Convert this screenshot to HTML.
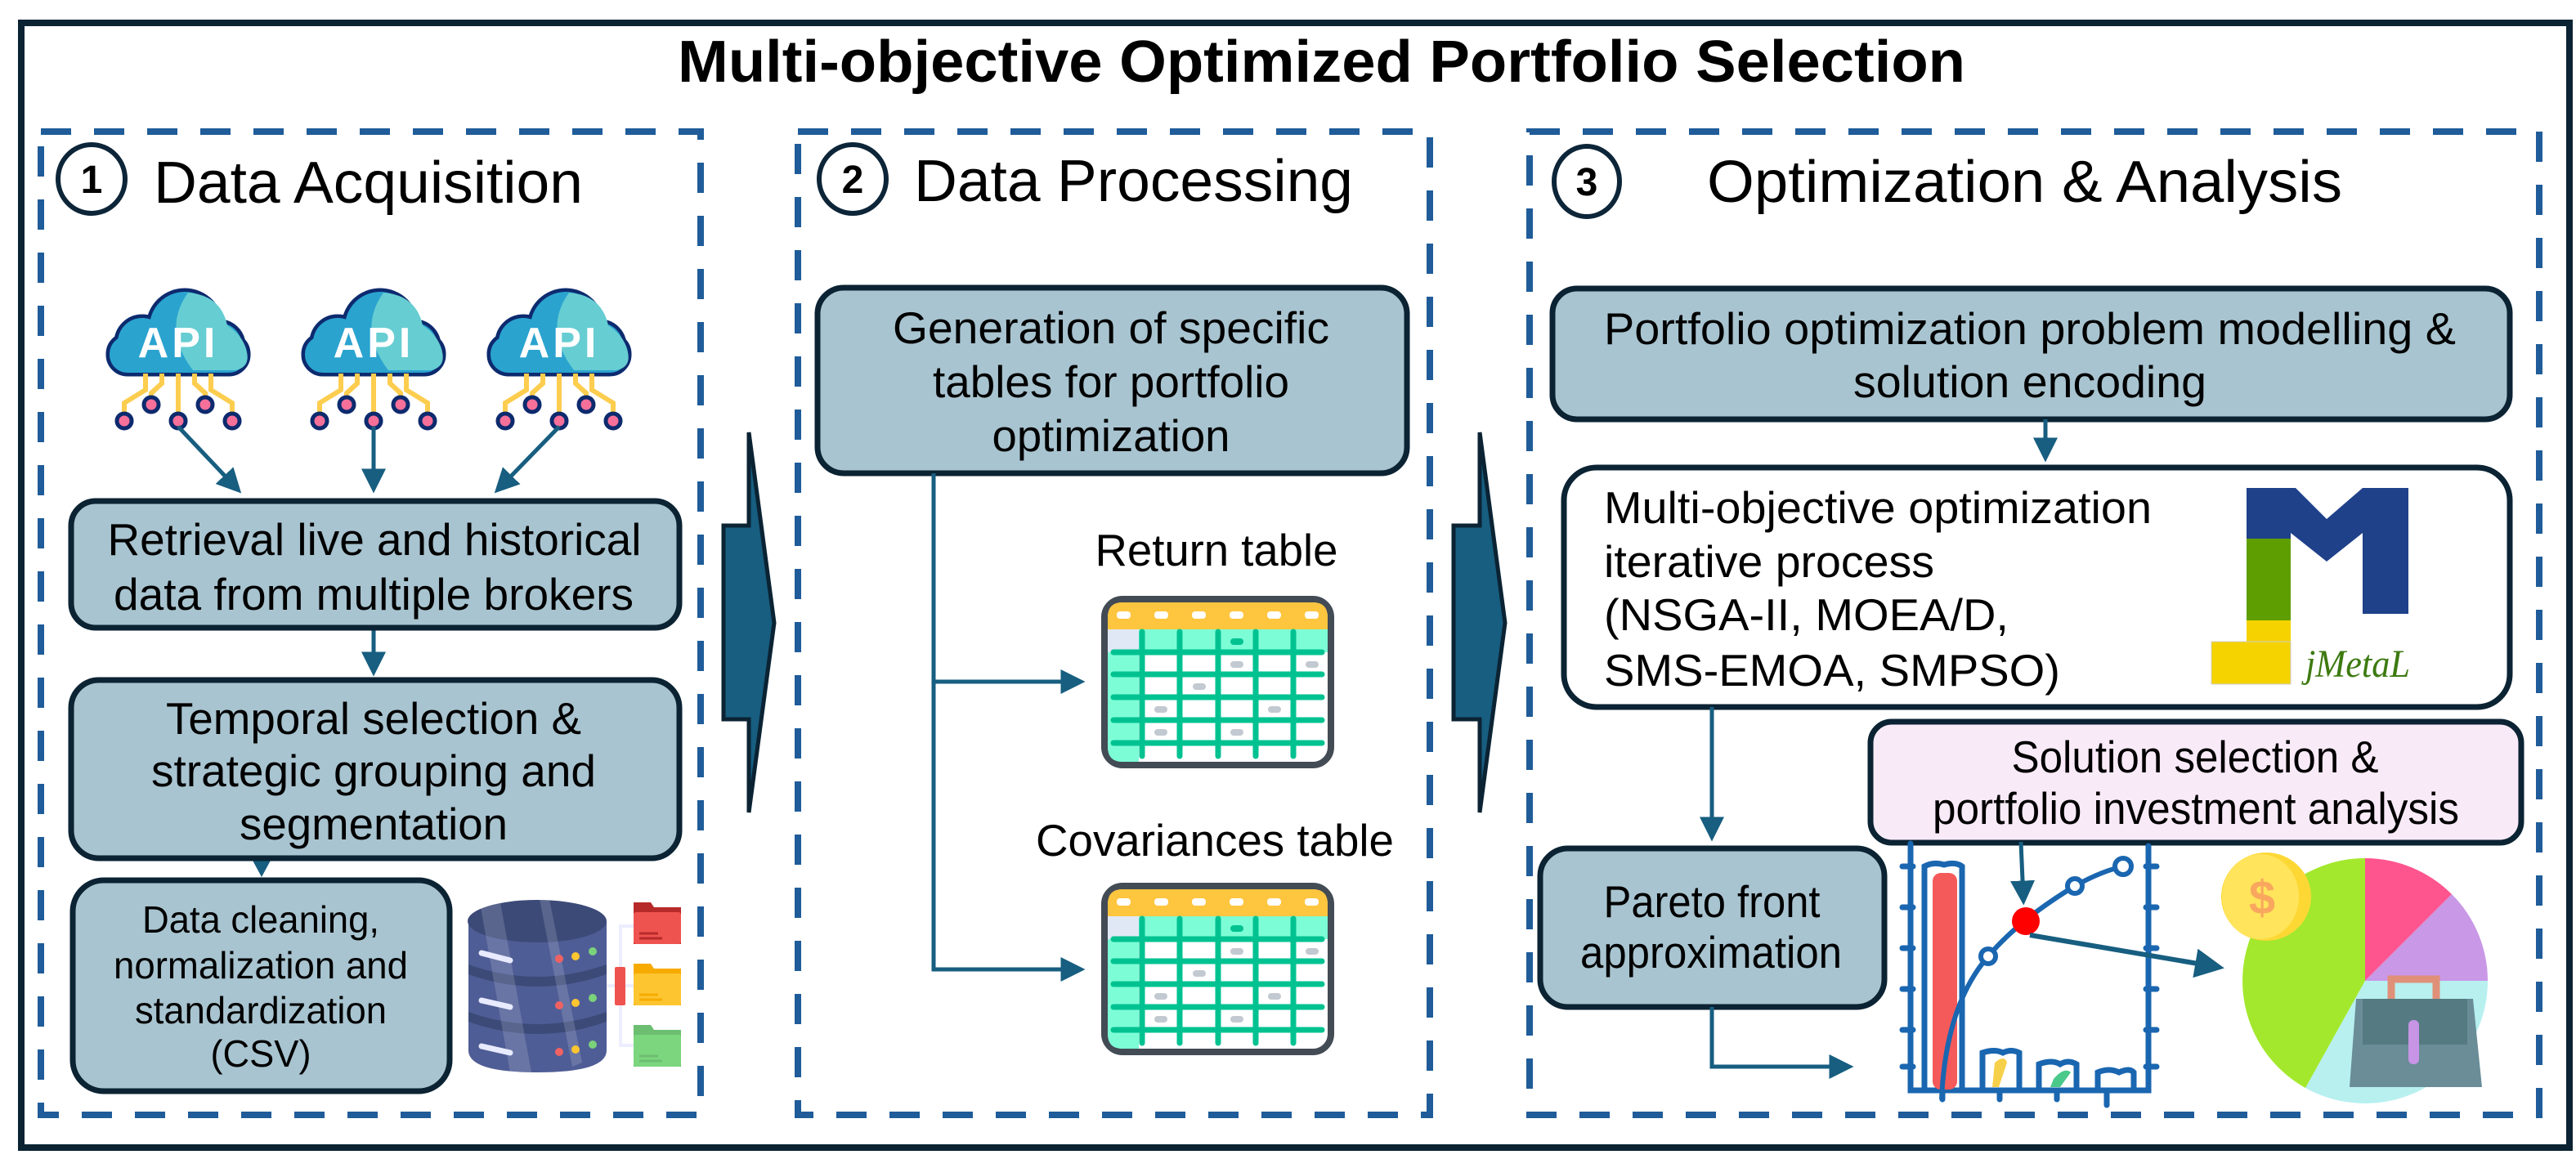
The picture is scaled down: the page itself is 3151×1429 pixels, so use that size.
<!DOCTYPE html>
<html><head><meta charset="utf-8"><style>html,body{margin:0;padding:0;background:#fff}svg{display:block}</style></head>
<body>
<svg width="3151" height="1429" viewBox="0 0 3151 1429" xmlns="http://www.w3.org/2000/svg" font-family="Liberation Sans, Arial, sans-serif">
<defs>
<marker id="ah" markerWidth="6" markerHeight="6" refX="4.5" refY="3" orient="auto" markerUnits="strokeWidth"><path d="M0,0 L6,3 L0,6 z" fill="#175e80"/></marker>
<g id="cloud">
  <g stroke="#0d2a6e" stroke-width="9" fill="#2aa3cf">
    <circle cx="8" cy="47" r="43"/><circle cx="-44" cy="66" r="30"/><circle cx="50" cy="70" r="28"/><rect x="-84" y="58" width="168" height="45" rx="22"/>
  </g>
  <g fill="#2aa3cf"><circle cx="8" cy="47" r="43"/><circle cx="-44" cy="66" r="30"/><circle cx="50" cy="70" r="28"/><rect x="-84" y="58" width="168" height="45" rx="22"/></g>
  <path d="M12,5 Q-20,50 18,100 L70,100 Q88,96 84,78 Q80,58 60,45 Q52,8 12,5 z" fill="#66cdd2"/>
  <text x="0" y="84" font-size="52" font-weight="bold" fill="#fff" text-anchor="middle" letter-spacing="4">API</text>
  <g stroke="#fdcd4f" stroke-width="6" fill="none">
    <path d="M-66,160 V140 L-40,124 V104"/><path d="M-33,140 V128 L-20,116 V104"/><path d="M0,160 V104"/><path d="M33,140 V128 L20,116 V104"/><path d="M66,160 V140 L40,124 V104"/>
  </g>
  <g fill="#f7709a" stroke="#0d2a6e" stroke-width="5">
    <circle cx="-66" cy="162" r="9"/><circle cx="-33" cy="142" r="9"/><circle cx="0" cy="162" r="9"/><circle cx="33" cy="142" r="9"/><circle cx="66" cy="162" r="9"/>
  </g>
</g>
<g id="tbl">
  <rect x="4" y="4" width="277" height="203" rx="22" fill="#fff" stroke="#434b55" stroke-width="8"/>
  <path d="M8,38 V26 Q8,8 26,8 H259 Q277,8 277,26 V41 H8z" fill="#fec53f"/>
  <rect x="8" y="41" width="269" height="28" fill="#7dfdd6"/>
  <rect x="8" y="41" width="38" height="28" fill="#e0e8f6"/>
  <path d="M8,69 H46 V203 H26 Q8,203 8,185z" fill="#7dfdd6"/>
  <g fill="#fff"><rect x="19" y="19" width="17" height="9" rx="4"/><rect x="65" y="19" width="17" height="9" rx="4"/><rect x="111" y="19" width="17" height="9" rx="4"/><rect x="157" y="19" width="17" height="9" rx="4"/><rect x="203" y="19" width="17" height="9" rx="4"/><rect x="249" y="19" width="17" height="9" rx="4"/></g>
  <g stroke="#00c291" stroke-width="7" stroke-linecap="round">
    <path d="M15,69 H270 M15,96 H270 M15,124 H270 M15,152 H270 M15,180 H270"/>
    <path d="M50,44 V196 M96,44 V196 M143,44 V196 M189,44 V196 M235,44 V196"/>
  </g>
  <rect x="158" y="52" width="16" height="8" rx="4" fill="#00c291"/>
  <g fill="#c3c9d1"><rect x="158" y="80" width="16" height="8" rx="4"/><rect x="250" y="80" width="16" height="8" rx="4"/><rect x="112" y="107" width="16" height="8" rx="4"/><rect x="65" y="135" width="16" height="8" rx="4"/><rect x="204" y="135" width="16" height="8" rx="4"/><rect x="65" y="163" width="16" height="8" rx="4"/><rect x="158" y="163" width="16" height="8" rx="4"/></g>
</g>
</defs>

<rect x="26" y="28" width="3117" height="1376" fill="none" stroke="#0b2333" stroke-width="8"/>
<text x="829" y="100" font-size="72" font-weight="bold" textLength="1575" lengthAdjust="spacingAndGlyphs">Multi-objective Optimized Portfolio Selection</text>

<g fill="none" stroke="#1f5c99" stroke-width="8" stroke-dasharray="37 28">
  <rect x="50" y="161" width="807" height="1203"/>
  <rect x="976" y="161" width="773" height="1203"/>
  <rect x="1871" y="161" width="1235" height="1203"/>
</g>

<g fill="#175e80" stroke="#0b2333" stroke-width="5">
  <polygon points="885,643 916,643 916,529 947,762 916,994 916,880 885,880"/>
  <polygon points="1778,643 1810,643 1810,529 1841,762 1810,994 1810,880 1778,880"/>
</g>

<g fill="none" stroke="#0d2538" stroke-width="6">
  <ellipse cx="112" cy="219" rx="41" ry="42"/><ellipse cx="1043" cy="219" rx="41" ry="42"/><ellipse cx="1941" cy="222" rx="40" ry="43"/>
</g>
<g font-weight="bold" font-size="48" text-anchor="middle"><text x="112" y="236">1</text><text x="1043" y="236">2</text><text x="1941" y="239">3</text></g>
<text x="188" y="248" font-size="72" textLength="525" lengthAdjust="spacingAndGlyphs">Data Acquisition</text>
<text x="1118" y="246" font-size="72" textLength="537" lengthAdjust="spacingAndGlyphs">Data Processing</text>
<text x="2088" y="247" font-size="72" textLength="777" lengthAdjust="spacingAndGlyphs">Optimization &amp; Analysis</text>

<use href="#cloud" x="218" y="353"/><use href="#cloud" x="457" y="353"/><use href="#cloud" x="684" y="353"/>
<g stroke="#175e80" stroke-width="5" fill="none" marker-end="url(#ah)">
  <path d="M218,522 L290,598"/><path d="M457,522 V596"/><path d="M684,522 L610,598"/>
  <path d="M457,768 V820"/>
</g>
<polygon points="307,1049 333,1049 320,1073" fill="#175e80"/>
<g fill="#a8c4d0" stroke="#0b2333" stroke-width="7">
  <rect x="87" y="613" width="744" height="155" rx="30"/>
  <rect x="87" y="832" width="744" height="218" rx="34"/>
  <rect x="89" y="1077" width="461" height="258" rx="38"/>
</g>
<g font-size="55" text-anchor="middle">
  <text x="458" y="679" textLength="653" lengthAdjust="spacingAndGlyphs">Retrieval live and historical</text>
  <text x="457" y="746" textLength="636" lengthAdjust="spacingAndGlyphs">data from multiple brokers</text>
  <text x="457" y="898" textLength="508" lengthAdjust="spacingAndGlyphs">Temporal selection &amp;</text>
  <text x="457" y="962" textLength="544" lengthAdjust="spacingAndGlyphs">strategic grouping and</text>
  <text x="457" y="1027" textLength="328" lengthAdjust="spacingAndGlyphs">segmentation</text>
</g>
<g font-size="46" text-anchor="middle">
  <text x="319" y="1141" textLength="290" lengthAdjust="spacingAndGlyphs">Data cleaning,</text>
  <text x="319" y="1197" textLength="360" lengthAdjust="spacingAndGlyphs">normalization and</text>
  <text x="319" y="1252" textLength="308" lengthAdjust="spacingAndGlyphs">standardization</text>
  <text x="319" y="1305" textLength="123" lengthAdjust="spacingAndGlyphs">(CSV)</text>
</g>
<g>
  <path d="M573,1127 V1285 Q573,1312 657,1312 Q742,1312 742,1285 V1127z" fill="#4f5d96"/>
  <ellipse cx="657" cy="1127" rx="85" ry="26" fill="#3c4a78"/>
  <path d="M573,1180 Q657,1210 742,1180 V1192 Q657,1222 573,1192z M573,1238 Q657,1268 742,1238 V1250 Q657,1280 573,1250z" fill="#3c4a78"/>
  <path d="M588,1110 L612,1104 L650,1312 L624,1312z" fill="#fff" opacity="0.15"/>
  <path d="M660,1100 L672,1100 L712,1300 L700,1305z" fill="#fff" opacity="0.15"/>
  <g stroke="#e8eaff" stroke-width="7" stroke-linecap="round"><path d="M589,1166 L624,1175"/><path d="M589,1224 L624,1232"/><path d="M589,1280 L624,1288"/></g>
  <g><circle cx="684" cy="1173" r="5" fill="#f06262"/><circle cx="704" cy="1170" r="5" fill="#fdc530"/><circle cx="725" cy="1164" r="5" fill="#7ad27b"/>
  <circle cx="684" cy="1230" r="5" fill="#f06262"/><circle cx="704" cy="1227" r="5" fill="#fdc530"/><circle cx="725" cy="1221" r="5" fill="#7ad27b"/>
  <circle cx="684" cy="1287" r="5" fill="#f06262"/><circle cx="704" cy="1284" r="5" fill="#fdc530"/><circle cx="725" cy="1278" r="5" fill="#7ad27b"/></g>
  <path d="M775,1133 H759 V1279 H775 M742,1206 H775" stroke="#eceeff" stroke-width="4" fill="none"/>
  <rect x="752" y="1183" width="13" height="47" rx="2" fill="#ef5350"/>
  <path d="M775,1104 H796 L800,1110 H833 V1155 H775z" fill="#b72a2a"/><rect x="775" y="1116" width="58" height="39" rx="3" fill="#ef5350"/>
  <path d="M775,1179 H796 L800,1185 H833 V1230 H775z" fill="#f7ab00"/><rect x="775" y="1191" width="58" height="39" rx="3" fill="#fdc530"/>
  <path d="M775,1254 H796 L800,1260 H833 V1305 H775z" fill="#6cbf70"/><rect x="775" y="1266" width="58" height="39" rx="3" fill="#7bd67e"/>
  <g stroke-width="3"><path d="M782,1142 H805 M782,1148 H810" stroke="#b72a2a"/><path d="M782,1217 H805 M782,1223 H810" stroke="#f7ab00"/><path d="M782,1292 H805 M782,1298 H810" stroke="#6cbf70"/></g>
</g>

<rect x="1000" y="352" width="721" height="227" rx="32" fill="#a8c4d0" stroke="#0b2333" stroke-width="7"/>
<g font-size="55" text-anchor="middle">
  <text x="1359" y="420" textLength="534" lengthAdjust="spacingAndGlyphs">Generation of specific</text>
  <text x="1359" y="486" textLength="436" lengthAdjust="spacingAndGlyphs">tables for portfolio</text>
  <text x="1359" y="552" textLength="291" lengthAdjust="spacingAndGlyphs">optimization</text>
  <text x="1488" y="692" textLength="297" lengthAdjust="spacingAndGlyphs">Return table</text>
  <text x="1486" y="1047" textLength="438" lengthAdjust="spacingAndGlyphs">Covariances table</text>
</g>
<g stroke="#175e80" stroke-width="5" fill="none">
  <path d="M1142,579 V1186 H1320" marker-end="url(#ah)"/>
  <path d="M1144,834 H1320" marker-end="url(#ah)"/>
</g>
<use href="#tbl" x="1347" y="729"/>
<use href="#tbl" x="1347" y="1080"/>

<rect x="1899" y="353" width="1171" height="160" rx="30" fill="#a8c4d0" stroke="#0b2333" stroke-width="7"/>
<g font-size="55" text-anchor="middle">
  <text x="2483" y="421" textLength="1042" lengthAdjust="spacingAndGlyphs">Portfolio optimization problem modelling &amp;</text>
  <text x="2483" y="486" textLength="432" lengthAdjust="spacingAndGlyphs">solution encoding</text>
</g>
<path d="M2502,513 V558" stroke="#175e80" stroke-width="5" marker-end="url(#ah)"/>
<rect x="1913" y="572" width="1157" height="293" rx="40" fill="#fff" stroke="#0b2333" stroke-width="7"/>
<g font-size="55">
  <text x="1962" y="640" textLength="670" lengthAdjust="spacingAndGlyphs">Multi-objective optimization</text>
  <text x="1962" y="706" textLength="404" lengthAdjust="spacingAndGlyphs">iterative process</text>
  <text x="1962" y="771" textLength="495" lengthAdjust="spacingAndGlyphs">(NSGA-II, MOEA/D,</text>
  <text x="1962" y="839" textLength="558" lengthAdjust="spacingAndGlyphs">SMS-EMOA, SMPSO)</text>
</g>
<g>
  <rect x="2748" y="658" width="54" height="101" fill="#5f9e00"/>
  <rect x="2748" y="759" width="54" height="30" fill="#f5d300"/>
  <rect x="2705" y="785" width="97" height="52" fill="#f5d300" stroke="#ccc" stroke-width="1"/>
  <polygon points="2748,597 2808,597 2846,635 2890,597 2946,597 2946,751 2890,751 2890,652 2846,687 2802,652 2802,659 2748,659" fill="#1f418a"/>
  <text x="2820" y="828" font-family="Liberation Serif, serif" font-style="italic" font-size="48" fill="#3d7a10" textLength="128" lengthAdjust="spacingAndGlyphs">jMetaL</text>
</g>
<path d="M2094,865 V1022" stroke="#175e80" stroke-width="5" marker-end="url(#ah)"/>
<rect x="1884" y="1038" width="421" height="194" rx="34" fill="#a8c4d0" stroke="#0b2333" stroke-width="7"/>
<g font-size="55" text-anchor="middle">
  <text x="2094" y="1122" textLength="265" lengthAdjust="spacingAndGlyphs">Pareto front</text>
  <text x="2093" y="1184" textLength="320" lengthAdjust="spacingAndGlyphs">approximation</text>
</g>
<path d="M2094,1232 V1305 H2260" stroke="#175e80" stroke-width="5" fill="none" marker-end="url(#ah)"/>
<rect x="2288" y="883" width="796" height="148" rx="26" fill="#f9eaf8" stroke="#0b2333" stroke-width="7"/>
<g font-size="55" text-anchor="middle">
  <text x="2685" y="945" textLength="449" lengthAdjust="spacingAndGlyphs">Solution selection &amp;</text>
  <text x="2686" y="1008" textLength="644" lengthAdjust="spacingAndGlyphs">portfolio investment analysis</text>
</g>
<g fill="none" stroke="#1a66b0" stroke-width="7" stroke-linecap="round">
  <path d="M2337,1032 V1334 H2628 V1035"/>
  <path d="M2354,1334 V1060 Q2365,1054 2378,1058 Q2392,1054 2400,1060 V1334"/>
  <path d="M2425,1334 V1288 Q2440,1283 2450,1288 Q2460,1283 2470,1288 V1334"/>
  <path d="M2494,1334 V1302 Q2510,1296 2520,1302 Q2530,1296 2540,1302 V1334"/>
  <path d="M2566,1334 V1312 Q2580,1306 2592,1312 Q2605,1306 2610,1312 V1334"/>
  <path d="M2327,1060 H2340 M2327,1110 H2340 M2327,1160 H2340 M2327,1210 H2340 M2327,1260 H2340 M2327,1305 H2340"/>
  <path d="M2625,1060 H2638 M2625,1110 H2638 M2625,1160 H2638 M2625,1210 H2638 M2625,1260 H2638 M2625,1305 H2638"/>
  <path d="M2376,1334 V1345 M2446,1334 V1345 M2516,1334 V1345 M2577,1334 V1352"/>
</g>
<rect x="2364" y="1068" width="30" height="265" rx="10" fill="#f55a5a"/>
<path d="M2440,1300 Q2452,1290 2455,1300 L2445,1330 L2437,1330z" fill="#f7d04a"/>
<path d="M2512,1320 Q2525,1305 2533,1312 L2520,1330 L2508,1330z" fill="#4ac98a"/>
<path d="M2375,1345 Q2380,1230 2432,1170 Q2470,1125 2538,1084 Q2570,1066 2597,1060" fill="none" stroke="#1a66b0" stroke-width="6"/>
<g fill="#fff" stroke="#1a66b0" stroke-width="6"><circle cx="2432" cy="1170" r="9"/><circle cx="2538" cy="1084" r="9"/><circle cx="2597" cy="1060" r="10"/></g>
<ellipse cx="2478" cy="1127" rx="17" ry="17" fill="#ff0000"/>
<path d="M2472,1030 L2475,1100" stroke="#175e80" stroke-width="5" marker-end="url(#ah)"/>
<path d="M2483,1144 L2712,1183" stroke="#175e80" stroke-width="6" marker-end="url(#ah)"/>
<g>
  <path d="M2893,1200 L2893,1050 A150,150 0 0 1 2999,1094z" fill="#ff558f"/>
  <path d="M2893,1200 L2999,1094 A150,150 0 0 1 3043,1200z" fill="#c998e6"/>
  <path d="M2893,1200 L3043,1200 A150,150 0 0 1 2820,1331z" fill="#b8f0f0"/>
  <path d="M2893,1200 L2820,1331 A150,150 0 0 1 2893,1050z" fill="#a3e82d"/>
  <path d="M2925,1222 V1198 H2980 V1222" fill="none" stroke="#e09078" stroke-width="9"/>
  <path d="M2882,1222 H3025 L3036,1330 H2874z" fill="#6a8d98"/>
  <rect x="2890" y="1222" width="128" height="56" fill="#557a82"/>
  <rect x="2946" y="1248" width="13" height="54" rx="6" fill="#c894e6"/>
  <ellipse cx="2772" cy="1097" rx="55" ry="54" fill="#fdd835"/>
  <ellipse cx="2765" cy="1097" rx="47" ry="52" fill="#ffe45c"/>
  <text x="2767" y="1118" font-size="58" font-weight="bold" text-anchor="middle" fill="#f9a75e">$</text>
</g>
</svg>
</body></html>
